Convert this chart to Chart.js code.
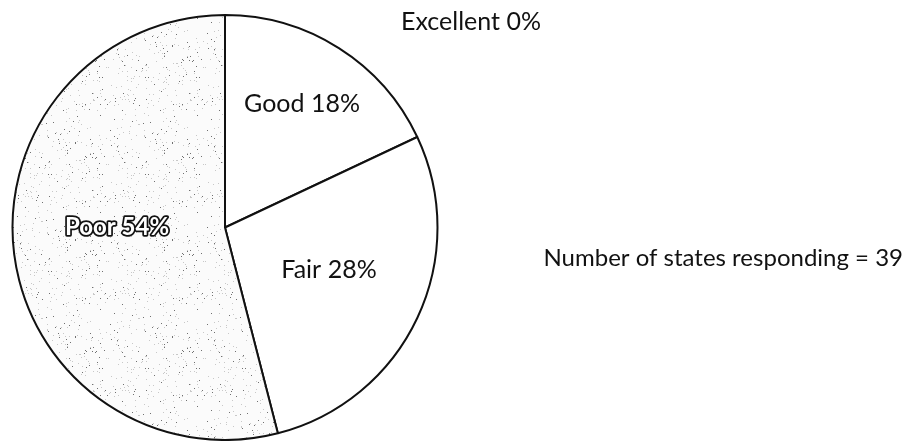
<!DOCTYPE html>
<html lang="en">
<head>
  <meta charset="UTF-8">
  <title>State Responses</title>
  <script src="https://cdn.jsdelivr.net/npm/chart.js"></script>
  <style>
    html, body { margin: 0; padding: 0; background: #fff; }
    #pieChart { display: block; }
  </style>
</head>
<body>
  <canvas id="pieChart" width="907" height="441"></canvas>

  <script>
    // ratings, clockwise from 12 o'clock
    const categories = ['Excellent', 'Good', 'Fair', 'Poor'];
    const percents = [0, 18, 28, 54];
    const statesResponding = 39;

    // speckled grey fill for the "Poor" slice (fixed dither, not data)
    function speckle() {
      const n = 97;
      const c = document.createElement('canvas');
      c.width = n; c.height = n;
      const g = c.getContext('2d');
      g.fillStyle = '#fbfbfb';
      g.fillRect(0, 0, n, n);
      for (let i = 0; i < n * n; i++) {
        let h = Math.imul(i ^ 0x5bd1e995, 0x27d4eb2d);
        h ^= h >>> 15;
        h = Math.imul(h, 0x85ebca6b);
        h ^= h >>> 13;
        h = h >>> 0;
        if (h % 41 === 0) {
          g.fillStyle = (h >>> 10) % 3 === 0 ? '#707070' : '#c8c8c8';
          g.fillRect(i % n, Math.floor(i / n), 1, 1);
        }
      }
      return g.createPattern(c, 'repeat');
    }

    const ctx = document.getElementById('pieChart').getContext('2d');
    const fills = ['#ffffff', '#ffffff', '#ffffff', speckle()];

    // label text offsets from the pie centre
    const labelOffsets = { Good: [77, -124], Fair: [104, 42], Poor: [-108, 0] };
    const labelFont = '400 25px Lato, "Open Sans", sans-serif';

    const labelPlugin = {
      id: 'sliceLabels',
      afterDraw(chart) {
        const c = chart.ctx;
        const arc = chart.getDatasetMeta(0).data[0];
        const cx = arc.x, cy = arc.y;
        c.save();
        c.font = labelFont;
        c.textBaseline = 'middle';
        c.textAlign = 'center';
        categories.forEach((name, i) => {
          const txt = name + ' ' + percents[i] + '%';
          if (name === 'Excellent') {
            c.fillStyle = '#111';
            c.fillText(txt, 471, 22);
            return;
          }
          const [dx, dy] = labelOffsets[name];
          if (name === 'Poor') {
            c.font = '700 24px Lato, "Open Sans", sans-serif';
            c.lineWidth = 3.5;
            c.strokeStyle = '#111';
            c.lineJoin = 'round';
            c.strokeText(txt, cx + dx, cy + dy);
            c.fillStyle = '#fff';
            c.fillText(txt, cx + dx, cy + dy);
            c.font = labelFont;
          } else {
            c.fillStyle = '#111';
            c.fillText(txt, cx + dx, cy + dy);
          }
        });
        c.textAlign = 'right';
        c.fillStyle = '#111';
        c.font = '400 24px Lato, "Open Sans", sans-serif';
        c.fillText('Number of states responding = ' + statesResponding, 903, 258);
        c.restore();
      }
    };

    new Chart(ctx, {
      type: 'pie',
      data: {
        labels: categories,
        datasets: [{
          data: percents,
          backgroundColor: fills,
          borderColor: '#111',
          borderWidth: 2
        }]
      },
      options: {
        responsive: false,
        animation: false,
        layout: { padding: { left: 10, right: 467, top: 14, bottom: 0 } },
        plugins: {
          legend: { display: false },
          tooltip: { enabled: false }
        }
      },
      plugins: [labelPlugin]
    });
  </script>
</body>
</html>
